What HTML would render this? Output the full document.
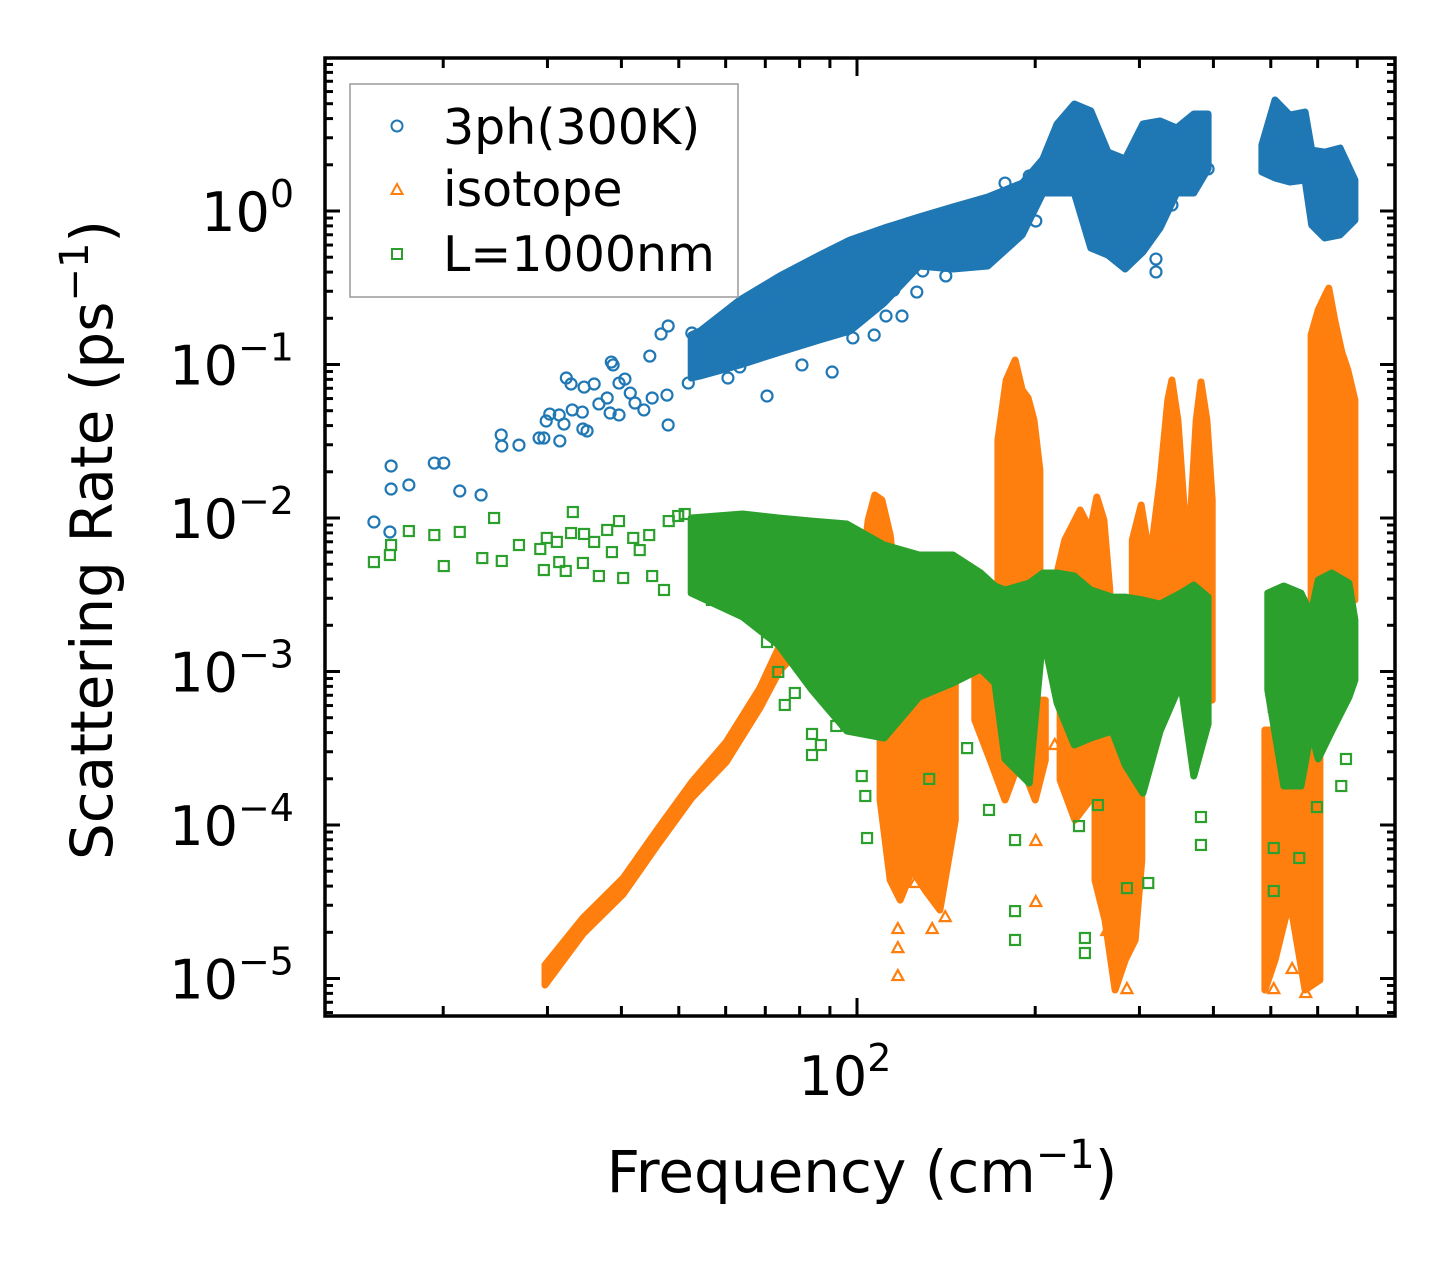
<!DOCTYPE html>
<html><head><meta charset="utf-8">
<style>
html,body{margin:0;padding:0;background:#fff;}
svg{display:block;font-family:"DejaVu Sans","Liberation Sans",sans-serif;}
</style></head>
<body>
<svg id="chart" width="1455" height="1265" viewBox="0 0 1455 1265" xmlns="http://www.w3.org/2000/svg">
  <rect x="0" y="0" width="1455" height="1265" fill="#fff"/>
  <g id="plot"></g>
  <g id="axes"></g>
  <text x="862" y="1192" font-size="58" text-anchor="middle">Frequency (cm<tspan font-size="40" dy="-24">−1</tspan><tspan dy="24">)</tspan></text>
  <text transform="translate(112,540) rotate(-90)" font-size="58" text-anchor="middle">Scattering Rate (ps<tspan font-size="40" dy="-24">−1</tspan><tspan dy="24">)</tspan></text>
  <g>
    <rect x="350" y="84" width="388" height="213" fill="#fff" fill-opacity="0.8" stroke="#a0a0a0" stroke-width="1.6"/>
    <circle cx="397" cy="126" r="5.5" fill="none" stroke="#1f77b4" stroke-width="2"/>
    <text x="443" y="144" font-size="49">3ph(300K)</text>
    <polygon points="397,184 402.5,194 391.5,194" fill="none" stroke="#ff7f0e" stroke-width="2"/>
    <text x="443" y="206" font-size="49">isotope</text>
    <rect x="392" y="249" width="10" height="10" fill="none" stroke="#2ca02c" stroke-width="2"/>
    <text x="443" y="271" font-size="49">L=1000nm</text>
  </g>
</svg>
<script>
// ---- axis ticks (log10 values) ----
const yMajorExp = [0, -1, -2, -3, -4, -5];
const yTickLabels = ["0", "−1", "−2", "−3", "−4", "−5"];
const xMajorExp = [2];
const xTickLabels = ["2"];
const xMinorVals = [20,30,40,50,60,70,80,90,200,300,400,500,600,700];

// ---- 3ph (300K) dense bands: log10 frequency, log10 rate upper/lower ----
const phBandA_logF = [1.720,1.735,1.802,1.870,1.937,1.988,2.046,2.105,2.162,2.221,2.279,2.314,2.338,2.367,2.395,2.424,2.453,2.483,2.512,2.540,2.569,2.593];
const phBandA_hi = [-0.808,-0.782,-0.580,-0.423,-0.287,-0.189,-0.111,-0.039,0.026,0.091,0.182,0.339,0.567,0.697,0.652,0.384,0.339,0.567,0.586,0.541,0.632,0.632];
const phBandA_lo = [-1.088,-1.075,-1.003,-0.919,-0.840,-0.782,-0.599,-0.358,-0.378,-0.358,-0.156,0.117,0.117,0.117,-0.241,-0.287,-0.378,-0.267,-0.111,0.117,0.117,0.274];
const phBandB_logF = [2.684,2.706,2.731,2.757,2.768,2.790,2.816,2.841];
const phBandB_hi = [0.430,0.723,0.625,0.645,0.397,0.384,0.410,0.202];
const phBandB_lo = [0.254,0.215,0.189,0.202,-0.091,-0.176,-0.156,-0.059];
// 3ph scattered points
const phPts_logF = [1.184,1.211,1.213,1.213,1.243,1.286,1.302,1.329,1.365,1.399,1.400,1.429,1.463,1.471,1.498,1.475,1.481,1.497,1.505,1.519,1.536,1.537,1.544,1.509,1.517,1.539,1.556,1.564,1.578,1.583,1.598,1.585,1.588,1.598,1.608,1.617,1.625,1.640,1.654,1.679,1.681,1.650,1.669,1.681,1.721,1.715,1.752,1.782,1.819,1.846,1.848,1.880,1.907,1.958,1.802,1.993,2.029,2.076,2.049,2.101,2.062,2.111,2.150,2.250,2.291,2.302,2.532,2.480,2.505,2.505,2.593];
const phPts_logR = [-2.026,-2.091,-1.661,-1.811,-1.785,-1.642,-1.642,-1.824,-1.850,-1.459,-1.531,-1.525,-1.479,-1.479,-1.498,-1.368,-1.323,-1.329,-1.388,-1.296,-1.310,-1.420,-1.433,-1.088,-1.127,-1.147,-1.127,-1.257,-1.218,-1.316,-1.329,-0.984,-1.003,-1.121,-1.095,-1.186,-1.251,-1.296,-1.218,-1.199,-1.394,-0.945,-0.801,-0.749,-0.795,-1.121,-0.762,-1.088,-0.625,-0.586,-1.205,-0.450,-1.003,-1.049,-1.016,-0.827,-0.808,-0.684,-0.684,-0.528,-0.515,-0.391,-0.423,0.182,0.228,-0.065,0.039,-0.208,-0.397,-0.313,0.274];

// ---- isotope bands ----
const isoBands_logF = [
  [1.473,1.537,1.605,1.662,1.721,1.779,1.836,1.870,1.904],
  [2.008,2.019,2.030,2.042,2.056,2.068],
  [2.039,2.056,2.073,2.093,2.115,2.140,2.166],
  [2.238,2.252,2.267,2.279,2.289,2.299,2.309],
  [2.199,2.225,2.250,2.275,2.301,2.318],
  [2.331,2.351,2.377,2.394,2.405,2.417,2.427],
  [2.402,2.419,2.436,2.453,2.470,2.481],
  [2.465,2.480,2.495,2.512,2.525,2.532,2.542,2.559,2.573,2.581,2.591,2.600],
  [2.343,2.368,2.394],
  [2.767,2.779,2.791,2.797,2.807,2.819,2.829,2.841],
  [2.689,2.706,2.731,2.757,2.782]
];
const isoBands_hi = [
  [-4.912,-4.606,-4.345,-4.033,-3.720,-3.459,-3.108,-2.827,-2.665],
  [-2.371,-2.013,-1.850,-1.883,-2.111,-2.534],
  [-2.795,-2.795,-2.795,-2.860,-2.860,-2.925,-3.056],
  [-1.492,-1.101,-0.971,-1.166,-1.218,-1.362,-1.687],
  [-2.795,-2.860,-3.186,-3.186,-3.186,-3.186],
  [-2.469,-2.143,-1.948,-2.078,-1.863,-2.013,-2.469],
  [-3.186,-3.316,-3.316,-3.316,-3.316,-3.446],
  [-2.143,-1.915,-2.274,-1.752,-1.231,-1.101,-1.362,-2.274,-1.362,-1.114,-1.362,-1.883],
  [-3.186,-3.186,-3.316],
  [-0.808,-0.645,-0.547,-0.502,-0.710,-0.919,-1.036,-1.231],
  [-3.381,-3.381,-3.381,-3.381,-3.381]
];
const isoBands_lo = [
  [-5.043,-4.710,-4.450,-4.137,-3.824,-3.590,-3.238,-2.990,-2.860],
  [-2.925,-2.925,-2.925,-2.925,-2.925,-2.925],
  [-3.837,-4.359,-4.489,-4.293,-4.424,-4.554,-3.968],
  [-2.665,-2.665,-2.599,-2.534,-2.599,-2.665,-2.665],
  [-3.316,-3.577,-3.837,-3.577,-3.837,-3.577],
  [-2.795,-2.730,-2.665,-2.730,-2.795,-2.795,-2.795],
  [-4.359,-4.619,-5.075,-4.880,-4.749,-4.228],
  [-2.665,-2.665,-2.665,-2.665,-2.665,-2.665,-2.665,-2.665,-2.665,-2.795,-3.056,-3.186],
  [-3.707,-3.968,-3.837],
  [-2.534,-2.534,-2.534,-2.534,-2.534,-2.534,-2.534,-2.534],
  [-5.075,-4.880,-4.489,-5.075,-5.010]
];
const isoPts_logF = [2.069,2.069,2.069,2.098,2.127,2.149,2.302,2.302,2.334,2.422,2.456,2.704,2.704,2.735,2.758,2.762,2.826,2.826,2.777,2.777,2.826,2.826];
const isoPts_logR = [-4.984,-4.802,-4.678,-4.378,-4.678,-4.600,-4.502,-4.104,-3.479,-4.691,-5.069,-5.069,-4.710,-4.938,-5.095,-4.782,-1.883,-2.378,-1.427,-1.687,-1.687,-2.013];

// ---- L=1000nm bands ----
const bdBandA_logF = [1.720,1.807,1.867,1.924,1.983,2.046,2.105,2.162,2.209,2.233,2.250,2.291,2.314,2.338,2.367,2.395,2.431,2.453,2.483,2.512,2.547,2.569,2.593];
const bdBandA_hi = [-2.000,-1.974,-2.000,-2.020,-2.039,-2.176,-2.241,-2.241,-2.358,-2.443,-2.469,-2.424,-2.358,-2.358,-2.378,-2.469,-2.515,-2.515,-2.534,-2.560,-2.489,-2.437,-2.515];
const bdBandA_lo = [-2.489,-2.645,-2.827,-3.121,-3.388,-3.433,-3.166,-3.075,-2.984,-3.075,-3.570,-3.727,-2.762,-3.205,-3.479,-3.433,-3.388,-3.609,-3.792,-3.388,-3.075,-3.681,-3.342];
const bdBandB_logF = [2.694,2.721,2.750,2.767,2.779,2.802,2.831,2.841];
const bdBandB_hi = [-2.489,-2.443,-2.489,-2.625,-2.404,-2.358,-2.424,-2.665];
const bdBandB_lo = [-3.121,-3.746,-3.746,-3.388,-3.570,-3.388,-3.166,-3.056];
const bdPts_logF = [1.184,1.211,1.213,1.243,1.286,1.302,1.329,1.367,1.387,1.400,1.429,1.465,1.471,1.476,1.493,1.497,1.508,1.520,1.517,1.539,1.537,1.556,1.564,1.578,1.598,1.586,1.605,1.622,1.633,1.649,1.654,1.682,1.698,1.709,1.674,1.755,1.807,1.848,1.867,1.878,1.895,1.924,1.939,1.924,1.965,2.008,2.014,2.017,2.223,2.267,2.267,2.267,2.385,2.385,2.375,2.407,2.456,2.492,2.581,2.581,2.704,2.704,2.747,2.777,2.818,2.826,2.704,2.186,2.122];
const bdPts_logR = [-2.287,-2.241,-2.176,-2.085,-2.111,-2.313,-2.091,-2.261,-2.000,-2.280,-2.176,-2.202,-2.339,-2.130,-2.156,-2.287,-2.345,-1.961,-2.098,-2.104,-2.293,-2.156,-2.378,-2.078,-2.020,-2.222,-2.391,-2.130,-2.209,-2.111,-2.378,-2.020,-1.987,-1.974,-2.469,-2.534,-2.612,-2.808,-3.003,-3.218,-3.140,-3.407,-3.479,-3.544,-3.355,-3.681,-3.811,-4.085,-3.902,-4.098,-4.561,-4.749,-4.736,-4.834,-4.007,-3.870,-4.411,-4.378,-4.130,-3.948,-4.430,-4.150,-4.215,-3.883,-3.746,-3.570,-3.231,-3.499,-3.700];

// ---- axis functions ----
const X0 = 857, XD = 592, Y0 = 211, YD = 153.5;
const L = 325, R = 1395, T = 58, B = 1016;
function xs(lf){ return X0 + (lf - 2) * XD; }
function ys(lr){ return Y0 - lr * YD; }
const NS = "http://www.w3.org/2000/svg";
const plot = document.getElementById('plot');
const axes = document.getElementById('axes');
function mk(tag, attrs, parent){
  const e = document.createElementNS(NS, tag);
  for (const k in attrs) e.setAttribute(k, attrs[k]);
  parent.appendChild(e);
  return e;
}
const C1 = "#1f77b4", C2 = "#ff7f0e", C3 = "#2ca02c";

function band(F, Hi, Lo, color, name){
  const pts = [];
  for (let i = 0; i < F.length; i++) pts.push(xs(F[i]).toFixed(1) + "," + ys(Hi[i]).toFixed(1));
  for (let i = F.length - 1; i >= 0; i--) pts.push(xs(F[i]).toFixed(1) + "," + ys(Lo[i]).toFixed(1));
  const p = mk('polygon', {points: pts.join(' '), fill: color, stroke: color, 'stroke-width': 7, 'stroke-linejoin': 'round'}, plot);
  
  
}
function circles(F, Rr, color){
  for (let i = 0; i < F.length; i++){
    const c = mk('circle', {cx: xs(F[i]), cy: ys(Rr[i]), r: 5.5, fill: 'none', stroke: color, 'stroke-width': 2.2}, plot);
    
    
  }
}
function tris(F, Rr, color){
  for (let i = 0; i < F.length; i++){
    const x = xs(F[i]), y = ys(Rr[i]);
    const t = mk('polygon', {points: x + "," + (y - 6) + " " + (x + 5.5) + "," + (y + 4) + " " + (x - 5.5) + "," + (y + 4), fill: 'none', stroke: color, 'stroke-width': 2.2}, plot);
    
    
  }
}
function squares(F, Rr, color){
  for (let i = 0; i < F.length; i++){
    const s = mk('rect', {x: xs(F[i]) - 5, y: ys(Rr[i]) - 5, width: 10, height: 10, fill: 'none', stroke: color, 'stroke-width': 2.2}, plot);
    
    
  }
}

// clip
const defs = mk('defs', {}, plot);
const cp = mk('clipPath', {id: 'clip'}, defs);
mk('rect', {x: L, y: T, width: R - L, height: B - T}, cp);
plot.setAttribute('clip-path', 'url(#clip)');

// 3ph
band(phBandA_logF, phBandA_hi, phBandA_lo, C1, '3ph-dense-band');
band(phBandB_logF, phBandB_hi, phBandB_lo, C1, '3ph-dense-band-high');
circles(phPts_logF, phPts_logR, C1);
// isotope
for (let b = 0; b < isoBands_logF.length; b++) band(isoBands_logF[b], isoBands_hi[b], isoBands_lo[b], C2, 'isotope-dense-band');
tris(isoPts_logF, isoPts_logR, C2);
// boundary
band(bdBandA_logF, bdBandA_hi, bdBandA_lo, C3, 'boundary-dense-band');
band(bdBandB_logF, bdBandB_hi, bdBandB_lo, C3, 'boundary-dense-band-high');
squares(bdPts_logF, bdPts_logR, C3);

// frame
const fr = mk('rect', {x: L, y: T, width: R - L, height: B - T, fill: 'none', stroke: '#000', 'stroke-width': 3.5}, axes);



// y ticks
const yTop = (Y0 - T) / YD, yBot = -(B - Y0) / YD;
for (let d = -6; d <= 1; d++){
  for (let m = 1; m <= 9; m++){
    const lv = d + Math.log10(m);
    if (lv > yTop || lv < yBot) continue;
    const y = ys(lv), len = (m === 1) ? 15 : 8;
    const t1 = mk('line', {x1: L, x2: L + len, y1: y, y2: y, stroke: '#000', 'stroke-width': 3}, axes);
    
    
    const t2 = mk('line', {x1: R, x2: R - len, y1: y, y2: y, stroke: '#000', 'stroke-width': 3}, axes);
    
    
  }
}
for (let i = 0; i < yMajorExp.length; i++){
  const y = ys(yMajorExp[i]);
  const tx = mk('text', {x: 294, y: y + 20, 'font-size': 54, 'text-anchor': 'end'}, axes);
  
  
  const a = document.createElementNS(NS, 'tspan'); a.textContent = "10"; tx.appendChild(a);
  const s = document.createElementNS(NS, 'tspan'); s.setAttribute('font-size', 38); s.setAttribute('dy', -24); s.textContent = yTickLabels[i]; tx.appendChild(s);
}
// x ticks
for (let i = 0; i < xMinorVals.length; i++){
  const x = xs(Math.log10(xMinorVals[i]));
  if (x < L || x > R) continue;
  const a = mk('line', {x1: x, x2: x, y1: B, y2: B - 10, stroke: '#000', 'stroke-width': 3}, axes);
  
  
  const b = mk('line', {x1: x, x2: x, y1: T, y2: T + 10, stroke: '#000', 'stroke-width': 3}, axes);
  
  
}
for (let i = 0; i < xMajorExp.length; i++){
  const x = xs(xMajorExp[i]);
  const a = mk('line', {x1: x, x2: x, y1: B, y2: B - 18, stroke: '#000', 'stroke-width': 3}, axes);
  
  
  const b = mk('line', {x1: x, x2: x, y1: T, y2: T + 18, stroke: '#000', 'stroke-width': 3}, axes);
  
  
  const tx = mk('text', {x: x - 12, y: 1095, 'font-size': 54, 'text-anchor': 'middle'}, axes);
  
  
  const t1 = document.createElementNS(NS, 'tspan'); t1.textContent = "10"; tx.appendChild(t1);
  const t2 = document.createElementNS(NS, 'tspan'); t2.setAttribute('font-size', 38); t2.setAttribute('dy', -24); t2.textContent = xTickLabels[i]; tx.appendChild(t2);
}
</script>
</body></html>
